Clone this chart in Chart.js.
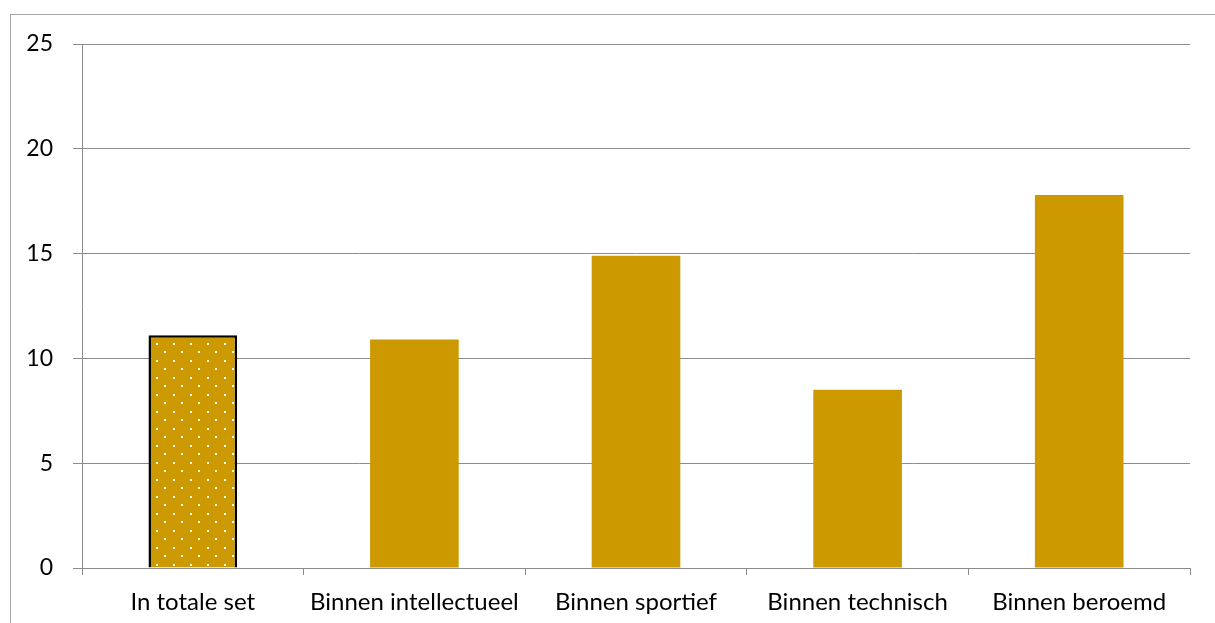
<!DOCTYPE html>
<html>
<head>
<meta charset="utf-8">
<script src="https://cdn.jsdelivr.net/npm/chart.js@4.4.1/dist/chart.umd.min.js"></script>
<style>
  html, body { margin: 0; padding: 0; background: #fff; overflow: hidden; }
  #wrap { position: relative; width: 1215px; height: 623px; }
  #frame { position: absolute; left: 10px; top: 14px; width: 1300px; height: 700px;
           border-left: 1px solid #a6a6a6; border-top: 1px solid #a6a6a6; }
  canvas { position: absolute; left: 0; top: 0; }
</style>
</head>
<body>
<div id="wrap">
  <div id="frame"></div>
  <canvas id="chart" width="1215" height="623"></canvas>
</div>
<script>
// categories and values
const categories = ["In totale set", "Binnen intellectueel", "Binnen sportief", "Binnen technisch", "Binnen beroemd"];
const values = [11.1, 10.9, 14.9, 8.5, 17.8];
const yTicks = [0, 5, 10, 15, 20, 25];

const GOLD = "#cc9900";
const GRID = "#8c8c8c";

// dotted fill for the first bar
function makeDots() {
  const c = document.createElement("canvas");
  c.width = 17;
  c.height = 17;
  const g = c.getContext("2d");
  g.fillStyle = GOLD;
  g.fillRect(0, 0, 17, 17);
  g.fillStyle = "#ffffff";
  g.fillRect(3, 3, 2, 2);
  g.fillRect(11, 11, 2, 2);
  return g.createPattern(c, "repeat");
}

const ctx = document.getElementById("chart").getContext("2d");
const dots = makeDots();

new Chart(ctx, {
  type: "bar",
  data: {
    labels: categories,
    datasets: [
      {
        data: values,
        backgroundColor: values.map((v, i) => (i === 0 ? dots : GOLD)),
        borderColor: values.map((v, i) => (i === 0 ? "#000000" : GOLD)),
        borderWidth: values.map((v, i) => (i === 0 ? 2.5 : 0)),
        borderSkipped: "bottom",
        barPercentage: 0.4,
        categoryPercentage: 1.0,
      },
    ],
  },
  options: {
    responsive: false,
    animation: false,
    layout: { padding: { top: 44, right: 25, left: 0, bottom: 0 } },
    plugins: {
      legend: { display: false },
      tooltip: { enabled: false },
    },
    scales: {
      x: {
        grid: {
          offset: true,
          drawOnChartArea: false,
          drawTicks: true,
          tickLength: 7,
          color: GRID,
        },
        border: { color: GRID, width: 1 },
        ticks: {
          color: "#000000",
          font: { family: "Lato, sans-serif", size: 24 },
          padding: 13,
          maxRotation: 0,
          autoSkip: false,
        },
        afterFit: (s) => { s.height = 55; },
      },
      y: {
        min: 0,
        max: 25,
        afterBuildTicks: (s) => { s.ticks = yTicks.map((v) => ({ value: v })); },
        grid: {
          color: GRID,
          tickLength: 9,
        },
        border: { color: GRID, width: 1 },
        ticks: {
          color: "#000000",
          font: { family: "Lato, sans-serif", size: 23 },
          padding: 20,
        },
        afterFit: (s) => { s.width = 82; },
      },
    },
  },
});
</script>
</body>
</html>
